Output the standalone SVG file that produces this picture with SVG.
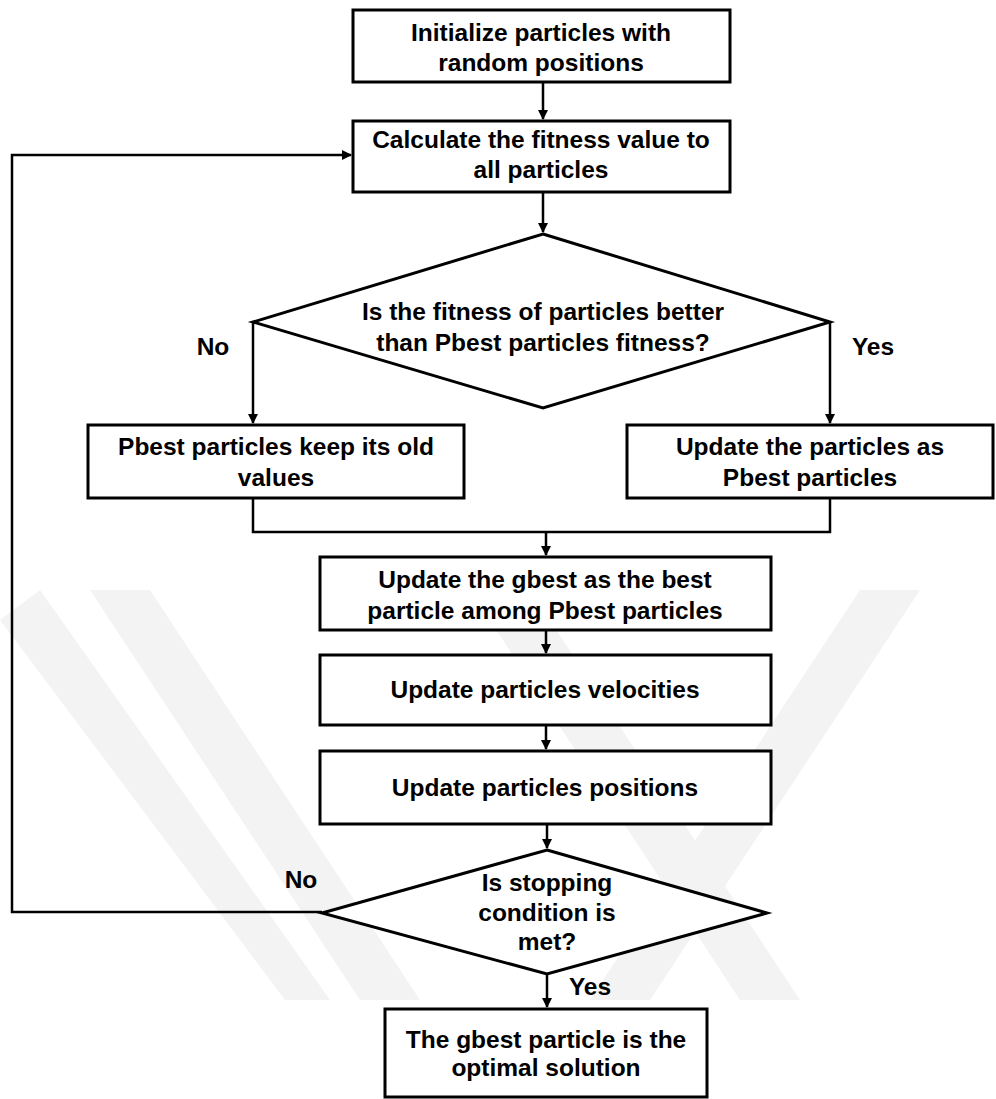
<svg xmlns="http://www.w3.org/2000/svg" width="996" height="1099" viewBox="0 0 996 1099">
<defs>
<style>
.box{fill:#fff;stroke:#000;stroke-width:3}
.t{font-family:"Liberation Sans",Arial,sans-serif;font-weight:bold;font-size:24.5px;fill:#000;text-anchor:middle}
.c{fill:none;stroke:#000;stroke-width:2.5}
.wm{fill:#f3f3f3}
</style>
<marker id="ah" markerWidth="10" markerHeight="10" refX="9" refY="5" orient="auto" markerUnits="userSpaceOnUse">
<path d="M0,0 L10,5 L0,10 z" fill="#000"/>
</marker>
</defs>
<rect width="996" height="1099" fill="#fff"/>
<g id="watermark">
<polygon class="wm" points="0,620 40,590 330,1000 285,1000"/>
<polygon class="wm" points="90,590 150,590 420,1000 360,1000"/>
<polygon class="wm" points="470,590 530,590 800,1000 740,1000"/>
<polygon class="wm" points="860,590 920,590 650,1000 590,1000"/>
</g>
<g id="connectors">
<line class="c" x1="543" y1="82" x2="543" y2="119" marker-end="url(#ah)"/>
<line class="c" x1="543" y1="192" x2="543" y2="232" marker-end="url(#ah)"/>
<line class="c" x1="253" y1="322" x2="253" y2="423" marker-end="url(#ah)"/>
<line class="c" x1="830" y1="322" x2="830" y2="423" marker-end="url(#ah)"/>
<polyline class="c" points="253,498 253,532 830,532 830,498"/>
<line class="c" x1="546" y1="532" x2="546" y2="555" marker-end="url(#ah)"/>
<line class="c" x1="546" y1="630" x2="546" y2="653" marker-end="url(#ah)"/>
<line class="c" x1="546" y1="725" x2="546" y2="749" marker-end="url(#ah)"/>
<line class="c" x1="547" y1="824" x2="547" y2="848" marker-end="url(#ah)"/>
<line class="c" x1="547" y1="974" x2="547" y2="1007" marker-end="url(#ah)"/>
<polyline class="c" points="322,912 12,912 12,155 351,155" marker-end="url(#ah)"/>
</g>
<g id="n1"><rect class="box" x="353" y="10" width="377" height="72"/>
<text class="t" x="541" y="41">Initialize particles with</text>
<text class="t" x="541" y="71">random positions</text></g>
<g id="n2"><rect class="box" x="353" y="121" width="377" height="71"/>
<text class="t" x="541" y="148">Calculate the fitness value to</text>
<text class="t" x="541" y="178">all particles</text></g>
<g id="d1"><polygon class="box" points="543,234 830,322 543,408 253,322"/>
<text class="t" x="543" y="320">Is the fitness of particles better</text>
<text class="t" x="543" y="351">than Pbest particles fitness?</text></g>
<text class="t" x="213" y="355">No</text>
<text class="t" x="873" y="355">Yes</text>
<g id="n3"><rect class="box" x="88" y="425" width="376" height="73"/>
<text class="t" x="276" y="455">Pbest particles keep its old</text>
<text class="t" x="276" y="486">values</text></g>
<g id="n4"><rect class="box" x="627" y="425" width="366" height="73"/>
<text class="t" x="810" y="455">Update the particles as</text>
<text class="t" x="810" y="486">Pbest particles</text></g>
<g id="n5"><rect class="box" x="320" y="557" width="451" height="73"/>
<text class="t" x="545" y="588">Update the gbest as the best</text>
<text class="t" x="545" y="619">particle among Pbest particles</text></g>
<g id="n6"><rect class="box" x="320" y="655" width="451" height="70"/>
<text class="t" x="545" y="698">Update particles velocities</text></g>
<g id="n7"><rect class="box" x="320" y="751" width="451" height="73"/>
<text class="t" x="545" y="796">Update particles positions</text></g>
<g id="d2"><polygon class="box" points="547,850 767,913 547,974 322,913"/>
<text class="t" x="547" y="891">Is stopping</text>
<text class="t" x="547" y="921">condition is</text>
<text class="t" x="547" y="950">met?</text></g>
<text class="t" x="301" y="888">No</text>
<text class="t" x="590" y="995">Yes</text>
<g id="n8"><rect class="box" x="385" y="1009" width="322" height="88"/>
<text class="t" x="546" y="1048">The gbest particle is the</text>
<text class="t" x="546" y="1076">optimal solution</text></g>
</svg>
